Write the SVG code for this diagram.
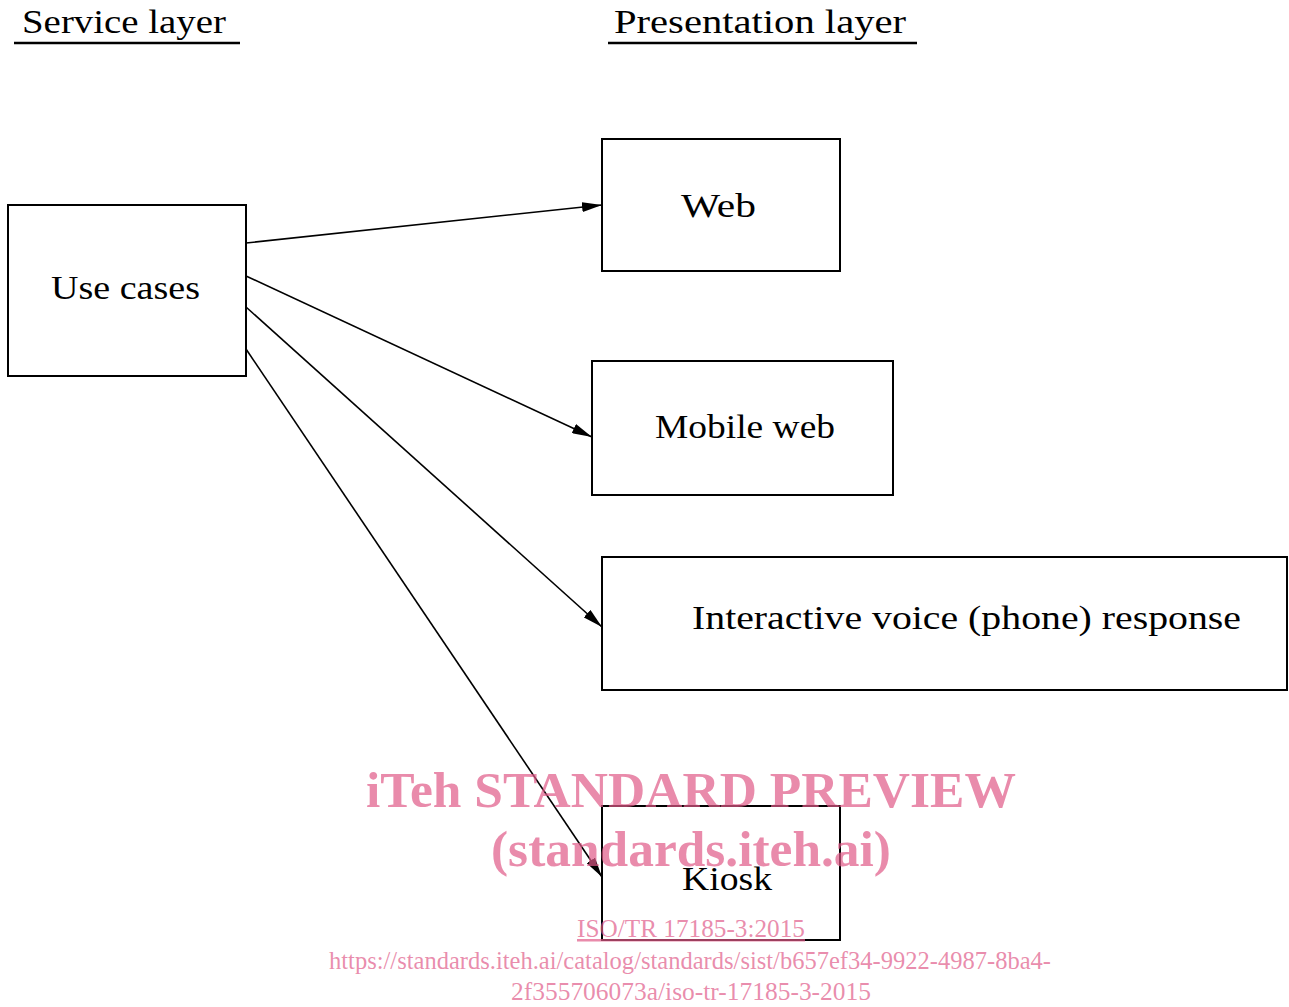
<svg xmlns="http://www.w3.org/2000/svg" width="1289" height="1007" viewBox="0 0 1289 1007">
  <style>
    .box { fill: #ffffff; stroke: #000000; stroke-width: 2; }
    .lbl { font-family: "Liberation Serif", "DejaVu Serif", serif; font-size: 34px; fill: #000000; }
    .hdr { font-family: "Liberation Serif", "DejaVu Serif", serif; font-size: 34px; fill: #000000; }
    .rule { stroke: #000000; stroke-width: 2.5; }
    .edge { stroke: #000000; stroke-width: 1.6; fill: none; marker-end: url(#arrow); }
    .wm { font-family: "Liberation Serif", serif; fill: #e05a88; fill-opacity: 0.7; text-anchor: middle; }
  </style>
  <defs>
    <marker id="arrow" viewBox="0 0 20 10" refX="20" refY="5" markerWidth="20" markerHeight="10" markerUnits="userSpaceOnUse" orient="auto">
      <path d="M0,0 L20,5 L0,10 Z" fill="#000000"/>
    </marker>
  </defs>

  <!-- column headings -->
  <g id="heading-service">
    <text class="hdr" x="22" y="33" textLength="204" lengthAdjust="spacingAndGlyphs">Service layer</text>
    <line class="rule" x1="14" y1="43" x2="240" y2="43"/>
  </g>
  <g id="heading-presentation">
    <text class="hdr" x="614" y="33" textLength="292" lengthAdjust="spacingAndGlyphs">Presentation layer</text>
    <line class="rule" x1="608" y1="43" x2="917" y2="43"/>
  </g>

  <!-- nodes -->
  <g id="use-cases">
    <rect class="box" x="8" y="205" width="238" height="171"/>
    <text class="lbl" x="51" y="299" textLength="149" lengthAdjust="spacingAndGlyphs">Use cases</text>
  </g>
  <g id="web">
    <rect class="box" x="602" y="139" width="238" height="132"/>
    <text class="lbl" x="681" y="217" textLength="75" lengthAdjust="spacingAndGlyphs">Web</text>
  </g>
  <g id="mobile-web">
    <rect class="box" x="592" y="361" width="301" height="134"/>
    <text class="lbl" x="655" y="438" textLength="180" lengthAdjust="spacingAndGlyphs">Mobile web</text>
  </g>
  <g id="ivr">
    <rect class="box" x="602" y="557" width="685" height="133"/>
    <text class="lbl" x="692" y="629" textLength="549" lengthAdjust="spacingAndGlyphs">Interactive voice (phone) response</text>
  </g>
  <g id="kiosk">
    <rect class="box" x="602" y="806" width="238" height="134"/>
    <text class="lbl" x="682" y="890" textLength="90" lengthAdjust="spacingAndGlyphs">Kiosk</text>
  </g>

  <!-- connectors -->
  <g id="connectors">
    <line class="edge" x1="246" y1="243" x2="602" y2="205"/>
    <line class="edge" x1="246" y1="276" x2="592" y2="437"/>
    <line class="edge" x1="246" y1="307" x2="602" y2="627"/>
    <line class="edge" x1="246" y1="349" x2="602" y2="877"/>
  </g>

  <!-- preview stamp -->
  <g id="stamp">
    <text class="wm" x="691" y="807" font-size="50" font-weight="bold" textLength="650" lengthAdjust="spacingAndGlyphs">iTeh STANDARD PREVIEW</text>
    <text class="wm" x="691" y="866" font-size="50" font-weight="bold" textLength="400" lengthAdjust="spacingAndGlyphs">(standards.iteh.ai)</text>
    <text class="wm" x="691" y="937" font-size="25" textLength="228" lengthAdjust="spacingAndGlyphs" text-decoration="underline">ISO/TR 17185-3:2015</text>
    <text class="wm" x="690" y="969" font-size="25" textLength="722" lengthAdjust="spacingAndGlyphs">https://standards.iteh.ai/catalog/standards/sist/b657ef34-9922-4987-8ba4-</text>
    <text class="wm" x="691" y="1000" font-size="25" textLength="360" lengthAdjust="spacingAndGlyphs">2f355706073a/iso-tr-17185-3-2015</text>
  </g>
</svg>
